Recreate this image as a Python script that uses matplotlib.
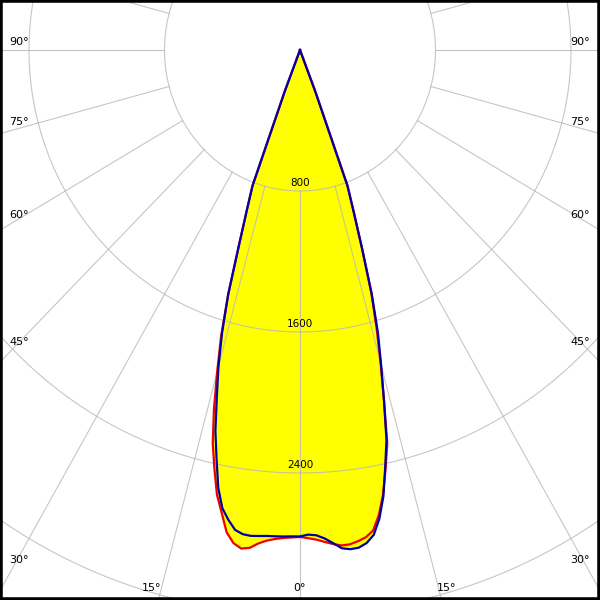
import numpy as np
import matplotlib.pyplot as plt

# luminous intensity (cd), gamma in degrees from nadir
gamma = np.arange(0, 23)
red_left = [2763, 2766, 2770, 2778, 2790, 2810, 2840, 2850, 2825, 2770, 2665, 2570,
            2430, 2290, 2100, 1890, 1690, 1450, 1170, 970, 820, 250, 0]
red_right = [2763, 2770, 2780, 2795, 2810, 2822, 2820, 2808, 2792, 2760, 2680, 2570,
             2430, 2290, 2050, 1840, 1640, 1440, 1190, 980, 820, 250, 0]
blue_left = [2760, 2760, 2762, 2763, 2764, 2768, 2772, 2768, 2750, 2700, 2640, 2530,
             2370, 2220, 2030, 1860, 1670, 1450, 1170, 970, 820, 250, 0]
blue_right = [2760, 2750, 2755, 2775, 2805, 2838, 2848, 2845, 2825, 2785, 2700, 2580,
              2420, 2270, 2050, 1850, 1670, 1450, 1190, 980, 820, 250, 0]

ring_values = [800, 1600, 2400, 3200]
ring_labels = ['800', '1600', '2400']
spoke_angles = np.arange(-180, 181, 15)

# angle labels: (text, x px, y px, alignment)
angle_labels = [('90°', 9, 42, 'left'), ('75°', 9, 122, 'left'), ('60°', 9, 215, 'left'),
                ('45°', 9, 342, 'left'), ('30°', 9, 560, 'left'), ('15°', 152, 588, 'center'),
                ('0°', 300, 588, 'center'), ('15°', 447, 588, 'center'),
                ('30°', 590, 560, 'right'), ('45°', 590, 342, 'right'), ('60°', 590, 215, 'right'),
                ('75°', 590, 122, 'right'), ('90°', 590, 42, 'right')]

# pixel scale of the original (slightly different in x and y)
sx = 135.5 / 800
sy = 141.0 / 800
cx, cy = 300, 50


def to_xy(angles, values):
	a = np.radians(angles)
	v = np.asarray(values, dtype=float)
	return v * np.sin(a), -v * np.cos(a)


def full_curve(left, right):
	angs = np.concatenate([-gamma[::-1], gamma[1:]])
	vals = np.concatenate([np.asarray(left)[::-1], np.asarray(right)[1:]])
	return to_xy(angs, vals)


fig = plt.figure(figsize=(6, 6), dpi=100)
ax = fig.add_axes([0, 0, 1, 1])
ax.set_xlim(-cx / sx, (600 - cx) / sx)
ax.set_ylim(-(600 - cy) / sy, cy / sy)
ax.set_xticks([])
ax.set_yticks([])
for s in ax.spines.values():
	s.set_color('black')
	s.set_linewidth(4)

rx, ry = full_curve(red_left, red_right)
bx, by = full_curve(blue_left, blue_right)
ax.fill(rx, ry, color='#ffff00', zorder=1, lw=0)
ax.fill(bx, by, color='#ffff00', zorder=1, lw=0)

# grid
t = np.linspace(0, 360, 721)
for r in ring_values:
	gx, gy = to_xy(t, np.full_like(t, r))
	ax.plot(gx, gy, color='#b8b8b8', lw=0.8, alpha=0.8, zorder=2)
for a in spoke_angles:
	gx, gy = to_xy([a, a], [800, 6000])
	ax.plot(gx, gy, color='#b8b8b8', lw=0.8, alpha=0.8, zorder=2)

ax.plot(rx, ry, color='#ee0000', lw=1.6, zorder=3, solid_joinstyle='round')
ax.plot(bx, by, color='#0000a8', lw=1.6, zorder=4, solid_joinstyle='round')

for r, lab in zip(ring_values, ring_labels):
	ax.text(0, -r + 2.5 / sy, lab, ha='center', va='bottom', fontsize=7.5, zorder=5)

for lab, px, py, ha in angle_labels:
	ax.text(px / 600, 1 - py / 600, lab, transform=ax.transAxes, ha=ha, va='center',
	        fontsize=8, zorder=5)

fig.savefig('out.png', dpi=100)
